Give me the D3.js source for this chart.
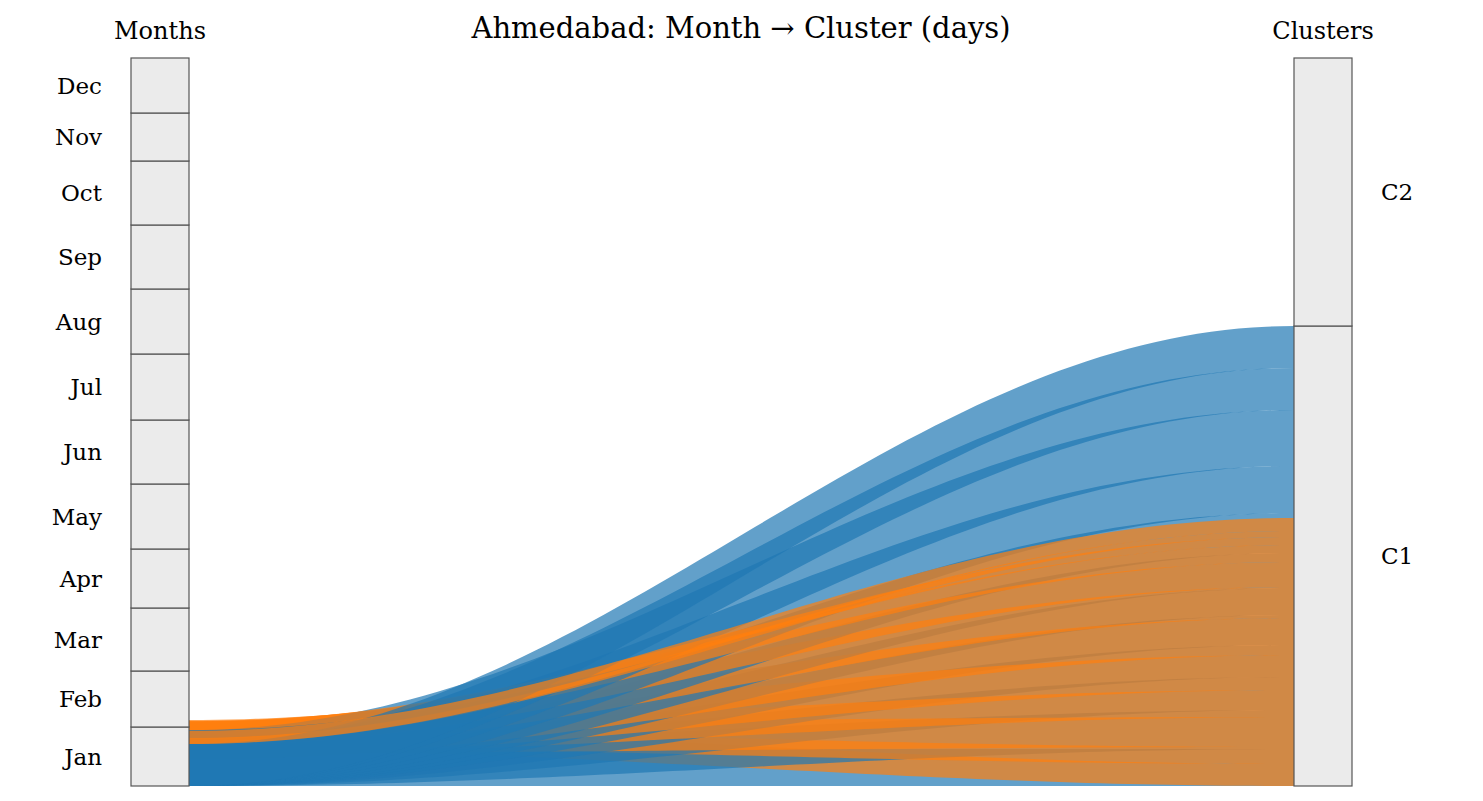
<!DOCTYPE html>
<html>
<head>
  <meta charset="UTF-8">
  <title>Ahmedabad: Month → Cluster</title>
  <script src="https://d3js.org/d3.v7.min.js"></script>
  <style>
    body { margin: 0; background: #fff; }
    text { font-family: "DejaVu Serif", serif; fill: #000; }
  </style>
</head>
<body>
  <svg width="1483" height="801"></svg>

  <script>
    // days per month split by cluster
    const months = ["Jan", "Feb", "Mar", "Apr", "May", "Jun", "Jul", "Aug", "Sep", "Oct", "Nov", "Dec"];
    const c1Days = [37, 39, 33, 32, 30, 27, 35, 40, 47, 56, 42, 42];
    const c2Days = [22, 17, 30, 27, 35, 37, 31, 25, 17, 8, 6, 13];
    const clusters = ["C1", "C2"];

    const monthTotals = months.map((m, i) => c1Days[i] + c2Days[i]);
    const clusterTotals = [d3.sum(c1Days), d3.sum(c2Days)];
    const total = d3.sum(monthTotals);

    const svg = d3.select("svg");

    const y = d3.scaleLinear().domain([0, total]).range([786, 58]);
    const x = d3.scaleLinear().domain([0, 1]).range([160, 1323]);
    const boxW = 58;
    const xf = d3.scaleLinear().domain([0, 1]).range([x(0) + boxW / 2, x(1) - boxW / 2]);

    // stacked month boxes and cluster boxes
    const monthBoxes = [];
    let acc = 0;
    monthTotals.forEach((t, i) => { monthBoxes.push({ name: months[i], lo: acc, hi: acc + t }); acc += t; });
    const clusterBoxes = [];
    acc = 0;
    clusterTotals.forEach((t, i) => { clusterBoxes.push({ name: clusters[i], lo: acc, hi: acc + t }); acc += t; });

    // flows: every month starts from the bottom of the left axis,
    // and both clusters stack from the bottom on the right
    const flows = [];
    let cum1 = 0, cum2 = 0;
    months.forEach((m, i) => {
      flows.push({ color: "#1f77b4", l0: 0, l1: c1Days[i], r0: cum1, r1: cum1 + c1Days[i] });
      cum1 += c1Days[i];
      flows.push({ color: "#ff7f0e", l0: c1Days[i], l1: c1Days[i] + c2Days[i], r0: cum2, r1: cum2 + c2Days[i] });
      cum2 += c2Days[i];
    });

    // cosine easing between the two axes
    const steps = d3.range(0, 1.0001, 1 / 80);
    const ease = f => (1 - Math.cos(Math.PI * f)) / 2;
    const line = d3.line().x(p => xf(p[0])).y(p => y(p[1]));
    const band = d => {
      const top = steps.map(f => [f, d.l1 + (d.r1 - d.l1) * ease(f)]);
      const bot = steps.slice().reverse().map(f => [f, d.l0 + (d.r0 - d.l0) * ease(f)]);
      return line(top.concat(bot)) + "Z";
    };

    svg.append("g")
      .selectAll("path")
      .data(flows)
      .join("path")
      .attr("d", band)
      .attr("fill", d => d.color)
      .attr("fill-opacity", 0.7);

    svg.append("g")
      .attr("fill", "#ebebeb")
      .attr("stroke", "#555")
      .attr("stroke-width", 1.2)
      .selectAll("rect")
      .data(monthBoxes)
      .join("rect")
      .attr("x", x(0) - boxW / 2)
      .attr("width", boxW)
      .attr("y", d => y(d.hi))
      .attr("height", d => y(d.lo) - y(d.hi));

    svg.append("g")
      .attr("fill", "#ebebeb")
      .attr("stroke", "#555")
      .attr("stroke-width", 1.2)
      .selectAll("rect")
      .data(clusterBoxes)
      .join("rect")
      .attr("x", x(1) - boxW / 2)
      .attr("width", boxW)
      .attr("y", d => y(d.hi))
      .attr("height", d => y(d.lo) - y(d.hi));

    svg.append("g")
      .attr("font-size", 23)
      .attr("text-anchor", "end")
      .selectAll("text")
      .data(monthBoxes)
      .join("text")
      .attr("x", x(0) - boxW / 2 - 29)
      .attr("y", d => y((d.lo + d.hi) / 2))
      .attr("dy", "0.35em")
      .text(d => d.name);

    svg.append("g")
      .attr("font-size", 23)
      .attr("text-anchor", "start")
      .selectAll("text")
      .data(clusterBoxes)
      .join("text")
      .attr("x", x(1) + boxW / 2 + 29)
      .attr("y", d => y((d.lo + d.hi) / 2))
      .attr("dy", "0.35em")
      .text(d => d.name);

    svg.append("text")
      .attr("x", x(0)).attr("y", 39)
      .attr("text-anchor", "middle")
      .attr("font-size", 24)
      .text("Months");

    svg.append("text")
      .attr("x", x(1)).attr("y", 39)
      .attr("text-anchor", "middle")
      .attr("font-size", 24)
      .text("Clusters");

    svg.append("text")
      .attr("x", 741).attr("y", 38)
      .attr("text-anchor", "middle")
      .attr("font-size", 29)
      .text("Ahmedabad: Month → Cluster (days)");
  </script>
</body>
</html>
